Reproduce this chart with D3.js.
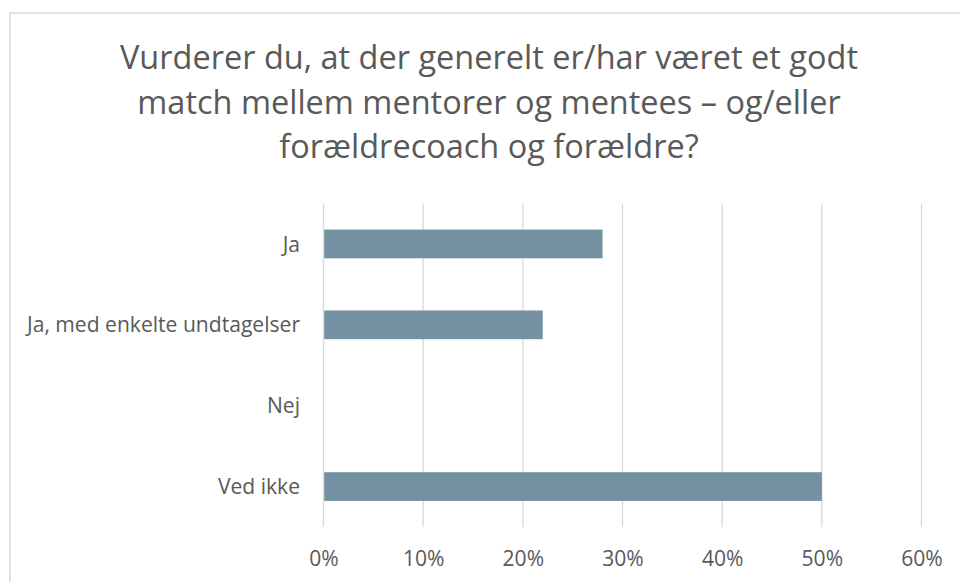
<!DOCTYPE html>
<html>
<head>
<meta charset="utf-8">
<script src="https://cdn.jsdelivr.net/npm/d3@7"></script>
<style>
  html, body { margin: 0; padding: 0; background: #fff; }
  svg { display: block; font-family: "Open Sans", sans-serif; }
</style>
</head>
<body>
<div id="chart"></div>
<script>
'use strict';

var titleLines = [
    "Vurderer du, at der generelt er/har været et godt",
    "match mellem mentorer og mentees – og/eller",
    "forældrecoach og forældre?"
];
var categories = ["Ja", "Ja, med enkelte undtagelser", "Nej", "Ved ikke"];
var values = [0.28, 0.22, 0, 0.50];
var tickValues = [0, 0.1, 0.2, 0.3, 0.4, 0.5, 0.6];

var width = 960, height = 582;

// squeeze Open Sans so it takes the room the narrower original font took
function fitText(sel, factor) {
    sel.each(function () {
        var w = this.getComputedTextLength();
        d3.select(this)
            .attr("textLength", w * factor)
            .attr("lengthAdjust", "spacingAndGlyphs");
    });
}

function drawChart() {
    var svg = d3.select("#chart")
        .append("svg")
        .attr("width", width)
        .attr("height", height);

    // chart frame, runs off the right and bottom like the source
    svg.append("rect")
        .attr("x", 10)
        .attr("y", 13)
        .attr("width", 1000)
        .attr("height", 700)
        .attr("fill", "#fff")
        .attr("stroke", "#d9d9d9")
        .attr("stroke-width", 1.5);

    var x = d3.scaleLinear()
        .domain([0, 0.6])
        .range([323.5, 921.5]);

    var y = d3.scaleBand()
        .domain(categories)
        .range([203.5, 527])
        .paddingInner(0.645)
        .paddingOuter(0.3225);

    // title
    var title = svg.append("g").attr("class", "title");
    var tl = title.selectAll("text")
        .data(titleLines)
        .enter()
        .append("text")
        .attr("x", 489)
        .attr("y", function (d, i) { return 69 + i * 44.7; })
        .attr("text-anchor", "middle")
        .style("font-size", "32px")
        .style("fill", "#595959")
        .text(function (d) { return d; });
    var firstW = tl.node().getComputedTextLength();
    fitText(tl, 738 / firstW);

    // vertical gridlines
    svg.append("g")
        .selectAll("line")
        .data(tickValues)
        .enter()
        .append("line")
        .attr("x1", function (d) { return x(d); })
        .attr("x2", function (d) { return x(d); })
        .attr("y1", 203.5)
        .attr("y2", 527)
        .attr("stroke", "#d9d9d9")
        .attr("stroke-width", 1.3);

    // bars
    svg.append("g")
        .selectAll("rect")
        .data(values)
        .enter()
        .append("rect")
        .attr("x", x(0) + 0.7)
        .attr("y", function (d, i) { return y(categories[i]); })
        .attr("width", function (d) { return Math.max(0, x(d) - x(0) - 0.7); })
        .attr("height", y.bandwidth())
        .attr("fill", "#7491a2");

    // x axis tick labels
    var xAxis = d3.axisBottom(x)
        .tickValues(tickValues)
        .tickFormat(d3.format(".0%"))
        .tickSize(0)
        .tickPadding(0);

    var gx = svg.append("g")
        .attr("transform", "translate(0,527)")
        .call(xAxis);
    gx.select(".domain").remove();
    gx.selectAll("text")
        .attr("y", 39)
        .attr("dy", null)
        .style("font-family", "'Open Sans', sans-serif")
        .style("font-size", "21px")
        .style("fill", "#595959");

    // category labels
    var yAxis = d3.axisLeft(y)
        .tickSize(0)
        .tickPadding(23.5);

    var gy = svg.append("g")
        .attr("transform", "translate(323.5,0)")
        .call(yAxis);
    gy.select(".domain").remove();
    var yl = gy.selectAll("text")
        .attr("dy", "0.36em")
        .style("font-family", "'Open Sans', sans-serif")
        .style("font-size", "21px")
        .style("fill", "#595959");

    var longest = 0;
    yl.each(function () { longest = Math.max(longest, this.getComputedTextLength()); });
    var f = 273 / longest;
    fitText(yl, f);
    fitText(gx.selectAll("text"), f);
}

drawChart();
</script>
</body>
</html>
